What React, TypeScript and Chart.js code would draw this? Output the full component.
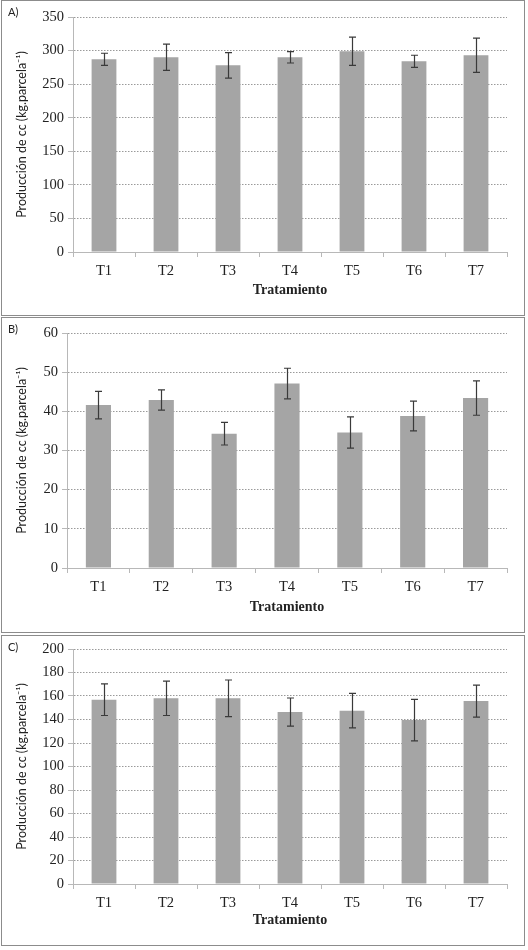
import Chart from "chart.js/auto";
import { useEffect, useRef } from "react";

const treatments = ["T1", "T2", "T3", "T4", "T5", "T6", "T7"];

const meansA = [287, 290, 278, 290, 299, 284, 293];
const errorsA = [9, 19.5, 19, 8.5, 21, 9, 25.5];

const meansB = [41.6, 42.9, 34.3, 47.1, 34.6, 38.8, 43.4];
const errorsB = [3.5, 2.6, 2.9, 3.9, 4, 3.8, 4.4];

const meansC = [156.9, 158, 158, 146.3, 147.5, 139.5, 155.7];
const errorsC = [13.5, 14.6, 15.6, 12, 14.7, 17.7, 13.6];

const yTitle = "Producción de cc (kg.parcela⁻¹)";
const xTitle = "Tratamiento";

const serif = "'Liberation Serif', 'Times New Roman', serif";
const sans = "Lato, 'Open Sans', sans-serif";

// draws vertical error bars with caps over each bar
const errorBarPlugin = {
  id: "errorBars",
  afterDatasetsDraw(chart: any) {
    const { ctx } = chart;
    const yScale = chart.scales.y;
    chart.data.datasets.forEach((ds: any, i: number) => {
      const meta = chart.getDatasetMeta(i);
      const errs: number[] = ds.errors || [];
      meta.data.forEach((bar: any, j: number) => {
        const v = ds.data[j];
        const e = errs[j] || 0;
        const yHi = yScale.getPixelForValue(v + e);
        const yLo = yScale.getPixelForValue(v - e);
        const x = Math.round(bar.x) + 0.5;
        ctx.save();
        ctx.strokeStyle = "#3a3a3a";
        ctx.lineWidth = 1.2;
        ctx.beginPath();
        ctx.moveTo(x, yHi);
        ctx.lineTo(x, yLo);
        ctx.moveTo(x - 3.5, yHi);
        ctx.lineTo(x + 3.5, yHi);
        ctx.moveTo(x - 3.5, yLo);
        ctx.lineTo(x + 3.5, yLo);
        ctx.stroke();
        ctx.restore();
      });
    });
  },
};

type PanelProps = {
  letter: string;
  top: number;
  height: number;
  means: number[];
  errors: number[];
  max: number;
  step: number;
  padTop: number;
  yWidth: number;
  xHeight: number;
};

function Panel(props: PanelProps) {
  const chartRef = useRef<HTMLCanvasElement>(null);

  useEffect(() => {
    const chart = new Chart(chartRef.current!, {
      type: "bar",
      data: {
        labels: treatments,
        datasets: [
          {
            label: "Producción",
            data: props.means,
            errors: props.errors,
            backgroundColor: "#a5a5a5",
            borderWidth: 0,
            barPercentage: 0.4,
            categoryPercentage: 1,
          } as any,
        ],
      },
      options: {
        animation: false,
        responsive: true,
        maintainAspectRatio: false,
        layout: { padding: { top: props.padTop, left: 0, right: 17, bottom: 0 } },
        plugins: {
          legend: { display: false },
          tooltip: { enabled: false },
        },
        scales: {
          x: {
            afterFit: (scale: any) => {
              scale.height = props.xHeight;
            },
            grid: {
              drawOnChartArea: false,
              drawTicks: true,
              tickLength: 5,
              tickColor: "#b8b8b8",
              offset: true,
            },
            border: { color: "#b8b8b8", width: 1 },
            ticks: {
              color: "#222",
              padding: 5,
              font: { family: serif, size: 14.5 },
            },
            title: {
              display: true,
              text: xTitle,
              color: "#222",
              font: { family: serif, size: 14, weight: "bold" },
              padding: { top: 0, bottom: 16 },
            },
          },
          y: {
            min: 0,
            max: props.max,
            afterFit: (scale: any) => {
              scale.width = props.yWidth;
            },
            ticks: {
              stepSize: props.step,
              color: "#222",
              padding: 4,
              font: { family: serif, size: 14.5 },
            },
            grid: {
              color: "#9a9a9a",
              lineWidth: 1,
              drawTicks: true,
              tickLength: 5,
              tickColor: "#b8b8b8",
              tickBorderDash: [],
            },
            border: { color: "#b8b8b8", width: 1, dash: [1.5, 1.5] },
            title: {
              display: true,
              text: yTitle,
              color: "#222",
              font: { family: sans, size: 12.5 },
              padding: { top: 12, bottom: 0 },
            },
          },
        },
      },
      plugins: [errorBarPlugin],
    } as any);

    return () => chart.destroy();
  }, []);

  return (
    <div
      style={{
        position: "absolute",
        left: 1,
        top: props.top,
        width: 522,
        height: props.height,
        border: "1px solid #8c8c8c",
        background: "#fff",
      }}
    >
      <canvas ref={chartRef}></canvas>
      <div
        style={{
          position: "absolute",
          left: 6,
          top: 4,
          fontFamily: sans,
          fontSize: 11,
          color: "#222",
        }}
      >
        {props.letter}
      </div>
    </div>
  );
}

export default function App() {
  useEffect(() => {
    document.body.style.margin = "0";
  }, []);

  return (
    <div style={{ position: "relative", width: 528, height: 950, background: "#fff" }}>
      <Panel letter="A)" top={0} height={314} means={meansA} errors={errorsA} max={350} step={50} padTop={16} yWidth={71} xHeight={63} />
      <Panel letter="B)" top={317} height={314} means={meansB} errors={errorsB} max={60} step={10} padTop={15} yWidth={65} xHeight={64} />
      <Panel letter="C)" top={635} height={309} means={meansC} errors={errorsC} max={200} step={20} padTop={13} yWidth={71} xHeight={61} />
    </div>
  );
}
